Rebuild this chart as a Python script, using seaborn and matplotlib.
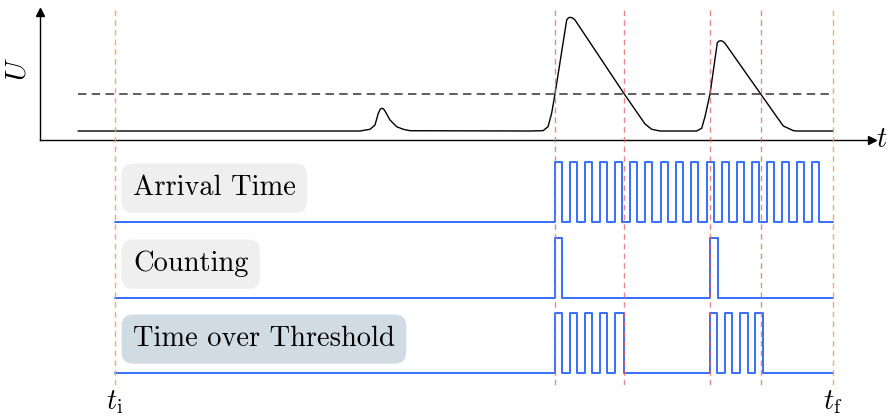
"""
Timing diagram: analog pulse U(t) over a threshold, and the three digital
readout modes derived from it (arrival time, counting, time over threshold).
"""

import matplotlib.pyplot as plt
import numpy as np
import pandas as pd
import seaborn as sns

# ---------------- data (time in arbitrary units, t_i = 0, t_f = 100) ----------------
T_START = 0.0
T_END = 100.0
THRESHOLD = 1.0

signal_t = [-5.15, 34.12, 35.52, 36.21, 36.67, 36.95, 37.15, 37.38, 37.60, 38.30, 39.23, 40.15, 41.09,
            57.80, 59.61, 60.31, 60.82, 61.28, 62.91, 63.14, 63.37, 63.69, 64.07, 70.93, 73.12, 73.82,
            74.75, 75.91, 81.02, 81.71, 82.17, 82.87, 83.89, 84.12, 84.36, 84.64, 84.96, 89.93, 92.16,
            93.08, 94.47, 94.94, 100.0]
signal_u = [0.0, 0.0, 0.046, 0.162, 0.478, 0.59, 0.614, 0.60, 0.541, 0.297, 0.116, 0.046, 0.008,
            0.0, 0.008, 0.116, 0.486, 1.0, 3.0, 3.055, 3.073, 3.06, 3.0, 1.0, 0.386, 0.189,
            0.046, 0.0, 0.0, 0.073, 0.386, 1.0, 2.386, 2.43, 2.44, 2.425, 2.37, 1.0, 0.386,
            0.135, 0.01, 0.0, 0.0]

# threshold crossings (red) and window edges (orange)
crossings = [61.28, 70.93, 82.87, 89.93]
window_edges = [T_START, T_END]

# digital outputs as (rise, fall) pairs
arrival_rises = [61.28, 63.37, 65.46, 67.55, 69.64, 71.73, 73.82, 76.00, 78.13,
                 80.22, 82.41, 84.50, 86.59, 88.68, 90.77, 92.86, 94.94, 97.03]
arrival_width = 1.04
counting_pulses = [(61.28, 62.30), (82.87, 83.95)]
tot_pulses = [(61.28, 62.30), (63.37, 64.39), (65.46, 66.48), (67.55, 68.57), (69.64, 70.84),
              (82.87, 83.89), (84.96, 86.0), (87.05, 88.1), (89.14, 90.2)]

row_labels = ["Arrival Time", "Counting", "Time over Threshold"]
row_box_colors = ["#efefef", "#efefef", "#d0dbe3"]

# ---------------- layout (figure pixels) ----------------
W, H = 889, 416
X_LEFT, X_RIGHT = 40, 872
PX_TI, PX_TF = 115, 833
px_per_t = (PX_TF - PX_TI) / (T_END - T_START)
XLIM = ((X_LEFT - PX_TI) / px_per_t, (X_RIGHT - PX_TI) / px_per_t)

BLUE = "#1f5fff"
RED = "#e06060"
ORANGE = "#f2a055"
FONT_SIZE = 20.5


def fig_rect(top_px, bottom_px):
    return [X_LEFT / W, 1 - bottom_px / H, (X_RIGHT - X_LEFT) / W, (bottom_px - top_px) / H]


def pulse_train(pulses):
    xs, ys = [T_START], [0]
    for rise, fall in pulses:
        xs += [rise, rise, fall, fall]
        ys += [0, 1, 1, 0]
    xs.append(T_END)
    ys.append(0)
    return pd.DataFrame({"t": xs, "level": ys})


def main():
    sns.set_theme(style="white")
    plt.rcParams["font.family"] = ["cmr10", "DejaVu Serif"]
    plt.rcParams["mathtext.fontset"] = "cm"
    plt.rcParams["axes.unicode_minus"] = False
    plt.rcParams["text.color"] = "black"

    fig = plt.figure(figsize=(W / 100, H / 100), dpi=100)

    # ---------------- analog signal ----------------
    ax = fig.add_axes(fig_rect(12, 140))
    ax.set_facecolor("none")
    px_per_u = 37
    ax.set_xlim(*XLIM)
    ax.set_ylim(-9 / px_per_u, 119 / px_per_u)
    sig = pd.DataFrame({"t": signal_t, "U": signal_u})
    sns.lineplot(data=sig, x="t", y="U", sort=False, estimator=None, color="black", lw=1.0, ax=ax)
    ax.plot([signal_t[0], T_END], [THRESHOLD, THRESHOLD], color="#333333", lw=1.1,
            dashes=(5.5, 3.5))
    for side in ["top", "right"]:
        ax.spines[side].set_visible(False)
    for side in ["left", "bottom"]:
        ax.spines[side].set_color("black")
        ax.spines[side].set_linewidth(1.0)
    ax.set_xticks([])
    ax.set_yticks([])
    ax.set_xlabel("")
    ax.set_ylabel("")
    ax.plot(0, 1, marker="^", color="black", ms=5.5, transform=ax.transAxes, clip_on=False)
    ax.plot(1, 0, marker=">", color="black", ms=5.5, transform=ax.transAxes, clip_on=False)
    ax.text(1.012, 0.0, r"$t$", transform=ax.transAxes, ha="center", va="center", fontsize=FONT_SIZE)
    ax.text(-0.026, 0.55, r"$U$", transform=ax.transAxes, ha="center", va="center",
            fontsize=FONT_SIZE, rotation=90)

    # ---------------- digital rows ----------------
    arrival_pulses = [(r, r + arrival_width) for r in arrival_rises]
    rows = [arrival_pulses, counting_pulses, tot_pulses]
    row_tops = [150, 226, 301]
    last_ax = None
    for pulses, label, box_color, top in zip(rows, row_labels, row_box_colors, row_tops):
        rax = fig.add_axes(fig_rect(top, top + 75))
        rax.set_facecolor("none")
        rax.set_xlim(*XLIM)
        rax.set_ylim(-0.05, 1.2)
        df = pulse_train(pulses)
        sns.lineplot(data=df, x="t", y="level", sort=False, estimator=None,
                     color=BLUE, lw=1.4, alpha=0.9, ax=rax)
        rax.text(2.5, 0.565, label, ha="left", va="center", fontsize=FONT_SIZE,
                 bbox=dict(boxstyle="round,pad=0.4", fc=box_color, ec="none"))
        rax.axis("off")
        last_ax = rax

    last_ax.text(T_START, -0.48, r"$t_{\mathrm{i}}$", ha="center", va="center", fontsize=FONT_SIZE)
    last_ax.text(T_END, -0.48, r"$t_{\mathrm{f}}$", ha="center", va="center", fontsize=FONT_SIZE)

    # ---------------- vertical markers ----------------
    vax = fig.add_axes(fig_rect(10, 385))
    vax.set_facecolor("none")
    vax.set_xlim(*XLIM)
    vax.set_ylim(0, 1)
    vax.axis("off")
    for t in crossings:
        vax.axvline(t, color=RED, lw=1.0, alpha=0.75, dashes=(4, 3))
    for t in window_edges:
        vax.axvline(t, color=ORANGE, lw=1.0, alpha=0.9, dashes=(4, 3))

    fig.savefig("out.png", dpi=100)
    plt.close(fig)


if __name__ == "__main__":
    main()
